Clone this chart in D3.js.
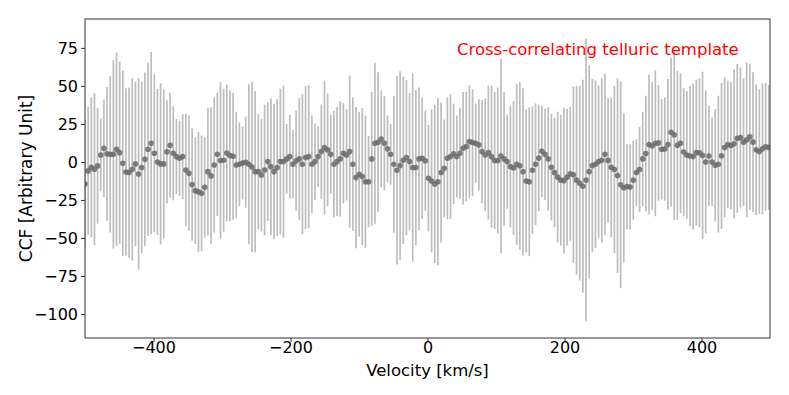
<!DOCTYPE html>
<html>
<head>
<meta charset="utf-8">
<script src="https://cdn.jsdelivr.net/npm/d3@7"></script>
<style>
  body { margin: 0; background: #fff; }
  text { font-family: "DejaVu Sans", sans-serif; }
  .axis path, .axis line { stroke: #333; }
  .axis text { font-size: 16px; fill: #000; }
</style>
</head>
<body>
<svg id="ccf_svg" width="789" height="395"></svg>
<script>
// velocity grid [km/s]
var velocity = [
  -500, -495.4, -490.8, -486.2, -481.6, -477, -472.4, -467.8, -463.2, -458.6,
  -454, -449.4, -444.8, -440.2, -435.6, -431, -426.4, -421.8, -417.2, -412.6,
  -408, -403.4, -398.8, -394.2, -389.6, -385, -380.4, -375.8, -371.2, -366.6,
  -362, -357.4, -352.8, -348.2, -343.6, -339, -334.4, -329.8, -325.2, -320.6,
  -316, -311.4, -306.8, -302.2, -297.6, -293, -288.4, -283.8, -279.2, -274.6,
  -270, -265.4, -260.8, -256.2, -251.6, -247, -242.4, -237.8, -233.2, -228.6,
  -224, -219.4, -214.8, -210.2, -205.6, -201, -196.4, -191.8, -187.2, -182.6,
  -178, -173.4, -168.8, -164.2, -159.6, -155, -150.4, -145.8, -141.2, -136.6,
  -132, -127.4, -122.8, -118.2, -113.6, -109, -104.4, -99.8, -95.2, -90.6,
  -86, -81.4, -76.8, -72.2, -67.6, -63, -58.4, -53.8, -49.2, -44.6,
  -40, -35.4, -30.8, -26.2, -21.6, -17, -12.4, -7.8, -3.2, 1.4,
  6, 10.6, 15.2, 19.8, 24.4, 29, 33.6, 38.2, 42.8, 47.4,
  52, 56.6, 61.2, 65.8, 70.4, 75, 79.6, 84.2, 88.8, 93.4,
  98, 102.6, 107.2, 111.8, 116.4, 121, 125.6, 130.2, 134.8, 139.4,
  144, 148.6, 153.2, 157.8, 162.4, 167, 171.6, 176.2, 180.8, 185.4,
  190, 194.6, 199.2, 203.8, 208.4, 213, 217.6, 222.2, 226.8, 231.4,
  236, 240.6, 245.2, 249.8, 254.4, 259, 263.6, 268.2, 272.8, 277.4,
  282, 286.6, 291.2, 295.8, 300.4, 305, 309.6, 314.2, 318.8, 323.4,
  328, 332.6, 337.2, 341.8, 346.4, 351, 355.6, 360.2, 364.8, 369.4,
  374, 378.6, 383.2, 387.8, 392.4, 397, 401.6, 406.2, 410.8, 415.4,
  420, 424.6, 429.2, 433.8, 438.4, 443, 447.6, 452.2, 456.8, 461.4,
  466, 470.6, 475.2, 479.8, 484.4, 489, 493.6, 498.2
];

// CCF values
var ccf = [
  -14.5, -5.9, -3.5, -4.8, -2.6, 4.6, 9, 5.3, 5, 5,
  8.3, 6.1, -0.9, -6.6, -7, -4.8, -1.3, -7.9, -3.7, 1.8,
  8.3, 12.3, 5.7, 0, -1.3, -1.3, 6.6, 11, 5.7, 3.5,
  2.4, 3.5, -5.3, -7.5, -14.9, -18.9, -19.7, -20.6, -16.7, -6.4,
  -9.2, -2, 5, 0.9, 1.1, 5.9, 4.2, 3.7, -2, -1.5,
  -0.7, -0.2, -1.5, -3.3, -6.4, -6.4, -8.6, -5.3, 0.2, -3.1,
  -6.4, -3.7, 0.2, 0.2, 2, 3.5, -1.5, 0.7, 2, -1.5,
  2.9, 3.5, -1.5, 0.2, 3.5, 6.8, 9.4, 7.9, 5, -1.5,
  0.2, 2, 5.7, 4.6, 6.8, -1.5, -10.3, -8.1, -9.6, -13,
  -13, 2, 12.3, 12.9, 15.1, 12.3, 8.6, 5, -1.5, -5.5,
  -2.4, 1.1, 2.9, 0.2, -3.7, -3.7, 2, 2.4, 0.8, -10.7,
  -12.5, -14.5, -13, -7, -4.2, 2.4, 3.5, 5.3, 3.5, 5.7,
  9, 10.1, 13.4, 12.7, 12.3, 11.2, 6.8, 4.6, 6.1, 3.5,
  0.9, 0.9, 3.9, 2, 0.2, -3.1, -4, -1.6, -2.5, -6.5,
  -12.5, -13, -5.5, -1.5, 2.5, 7, 5, 2, -3.5, -7,
  -10, -12, -12.3, -10, -7.8, -8.4, -12, -14, -16, -12,
  -6.4, -2.4, -1.5, 0.2, 1.1, 5, 1, -3.5, -5, -9,
  -15, -17, -16.2, -16.5, -12, -7, -5, 2, 5.5, 11.5,
  10.5, 12.3, 12.5, 8.3, 8.5, 11.5, 19.5, 17.8, 11, 12.3,
  6.5, 4.6, 3.9, 3.5, 6.1, 6, 4.3, 0, 3.9, 0,
  -2.2, -1.5, 4, 9.5, 11.5, 10.8, 12, 15.5, 16, 13,
  14.5, 16.5, 13, 8, 6.8, 8.6, 10, 9.6
];

// error bar half lengths
var ccf_err = [
  42, 42, 46, 50, 38, 24, 32, 44, 51.5, 62,
  63.6, 60, 61, 55, 56, 60, 54, 63, 56.5, 57,
  57, 60, 52, 48, 53, 49, 34, 34.5, 31, 24.7,
  24.7, 28, 37, 38, 37, 35, 39.5, 38, 33, 42,
  45, 44.5, 40.6, 51.5, 47, 45, 43, 41.7, 35, 27.5,
  24, 30, 52.6, 56, 53, 38, 37, 43, 39, 45,
  44.5, 45, 48, 50, 23, 27.5, 22.5, 33, 40, 46,
  47, 47, 32, 25, 20, 31, 44, 37, 26, 35,
  36, 38, 33, 30, 50, 44, 46.5, 41, 45, 43.5,
  30, 44, 53, 46, 32, 31, 22, 20, 45, 62,
  62, 55, 51, 45, 62, 51, 47, 40, 33, 35,
  47, 52, 55, 46, 32, 40, 41, 33, 27, 30,
  37, 36, 37, 35, 26, 30, 34, 37, 44, 46.6,
  45, 48, 64, 44, 31, 40, 44, 53, 55, 55,
  47, 49, 42, 40, 35, 30, 30, 34, 35, 36,
  43, 43, 48, 45, 44, 58, 62, 64, 70, 93,
  70, 57, 55, 50, 54, 53, 41, 46, 55, 64,
  68, 49, 28, 28, 26, 22, 28, 31, 38, 46,
  42, 48, 38, 33, 34, 43, 49, 56, 49, 46,
  42, 42, 46, 48, 48, 49, 55, 47, 33, 29,
  37, 45, 48, 46, 42, 42, 49, 49, 46, 42,
  51, 48, 46, 43, 41, 43, 42, 41
];

var x_ticks = [-400, -200, 0, 200, 400];
var y_ticks = [-100, -75, -50, -25, 0, 25, 50, 75];
var label_text = "Cross-correlating telluric template";

var svg = d3.select("#ccf_svg"),
    margin = {top: 19, left: 85, right: 19, bottom: 57},
    width = +svg.attr("width") - margin.left - margin.right,
    height = +svg.attr("height") - margin.top - margin.bottom,
    g = svg.append("g").attr("transform", "translate(" + margin.left + ", " + margin.top + ")");

var data = velocity.map(function (v, i) {
    return {v: v, y: ccf[i], e: ccf_err[i]};
});

var x = d3.scaleLinear().domain([-500, 500]).range([0, width]);
var y = d3.scaleLinear().domain([-115.8, 94]).range([height, 0]);

var minus = function(d) { return d < 0 ? "\u2212" + Math.abs(d) : d; };

svg.append("defs").append("clipPath")
    .attr("id", "plot_clip")
    .append("rect")
    .attr("width", width)
    .attr("height", height);

var plot = g.append("g").attr("clip-path", "url(#plot_clip)");

plot.selectAll(".err")
    .data(data)
    .enter()
    .append("line")
    .attr("class", "err")
    .attr("x1", function(d) { return x(d.v); })
    .attr("x2", function(d) { return x(d.v); })
    .attr("y1", function(d) { return y(d.y + d.e); })
    .attr("y2", function(d) { return y(d.y - d.e); })
    .attr("stroke", "#bdbdbd")
    .attr("stroke-width", 1.7);

plot.selectAll(".dot")
    .data(data)
    .enter()
    .append("circle")
    .attr("class", "dot")
    .attr("cx", function(d) { return x(d.v); })
    .attr("cy", function(d) { return y(d.y); })
    .attr("r", 2.8)
    .attr("fill", "#6a6a6a")
    .attr("fill-opacity", 0.85);

g.append("g")
    .attr("class", "axis axis--x")
    .attr("transform", "translate(0, " + height + ")")
    .call(d3.axisBottom(x).tickValues(x_ticks).tickSize(4).tickPadding(0).tickFormat(minus));

g.append("g")
    .attr("class", "axis axis--y")
    .call(d3.axisLeft(y).tickValues(y_ticks).tickSize(4).tickPadding(3).tickFormat(minus));

// box around the axes
g.append("rect")
    .attr("width", width)
    .attr("height", height)
    .attr("fill", "none")
    .attr("stroke", "#333")
    .attr("stroke-width", 1);

svg.selectAll(".axis .domain").remove();

svg.append("text")
    .attr("x", margin.left + width / 2)
    .attr("y", 376)
    .attr("text-anchor", "middle")
    .attr("font-size", 16.5)
    .text("Velocity [km/s]");

svg.append("text")
    .attr("transform", "translate(32, " + (margin.top + height / 2) + ") rotate(-90)")
    .attr("text-anchor", "middle")
    .attr("font-size", 17)
    .text("CCF [Arbitrary Unit]");

g.append("text")
    .attr("x", x(43))
    .attr("y", 36)
    .attr("fill", "red")
    .attr("font-size", 16.5)
    .text(label_text);
</script>
</body>
</html>
